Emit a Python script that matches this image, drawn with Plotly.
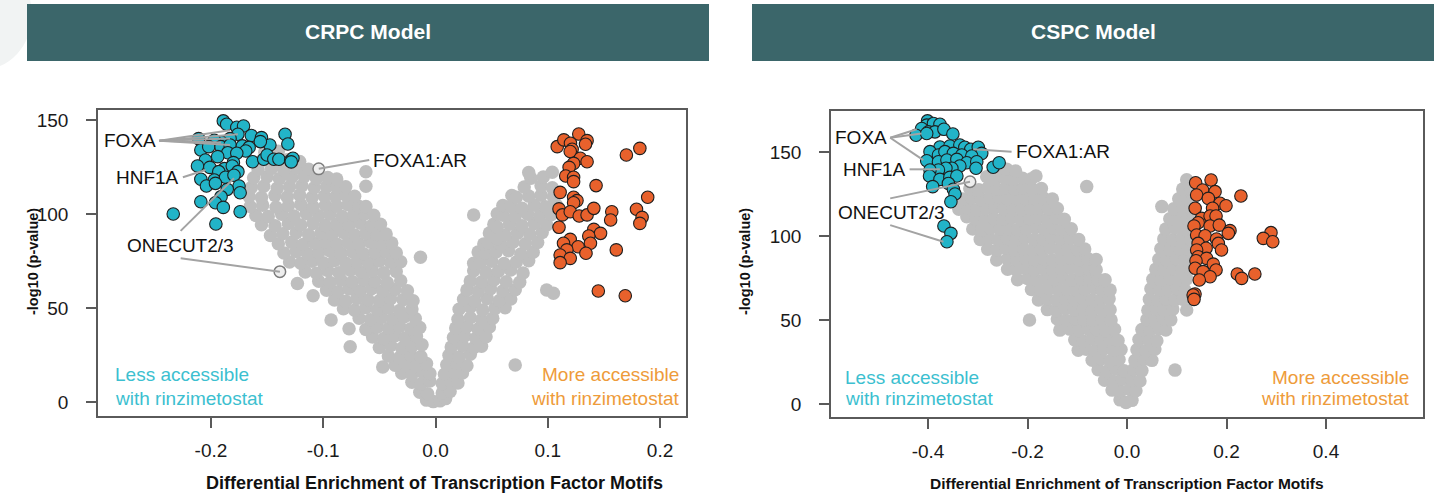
import plotly.graph_objects as go

W, H = 1436, 494
FONT = "Liberation Sans, Arial, sans-serif"

GRAY = "#BEBEBE"
CYAN = "#22B4C8"
ORANGE = "#E8612C"
EDGE = "#1E1E1E"
LEADER = "#A3A3A3"
HEADER = "#3B666A"
TXT_CYAN = "#3CBFD0"
TXT_ORANGE = "#EE9B3A"

# ---------------- CRPC model ----------------
crpc_gray_x = [
    -0.008, -0.002, 0.004, 0.009,
    -0.014, -0.007, 0.006, 0.013,
    -0.021, -0.013, -0.005, 0.006, 0.014, 0.020,
    -0.030, -0.021, -0.012, -0.005, 0.008, 0.016, 0.024,
    -0.047, -0.036, -0.026, -0.017, -0.008, 0.010, 0.019, 0.028, 0.071,
    -0.042, -0.032, -0.022, -0.013, 0.012, 0.021, 0.031,
    -0.076, -0.050, -0.040, -0.030, -0.021, -0.012, 0.014, 0.024, 0.034, 0.041,
    -0.056, -0.046, -0.036, -0.027, -0.017, 0.016, 0.026, 0.036, 0.045,
    -0.077, -0.062, -0.052, -0.042, -0.032, -0.022, -0.014, 0.018, 0.028, 0.038, 0.048,
    -0.093, -0.068, -0.058, -0.048, -0.038, -0.028, -0.018, 0.020, 0.031, 0.041, 0.051,
    -0.082, -0.072, -0.062, -0.052, -0.042, -0.032, -0.021, 0.021, 0.031, 0.042, 0.053, 0.062,
    -0.109, -0.090, -0.080, -0.070, -0.060, -0.050, -0.040, -0.029, -0.020, 0.025, 0.035, 0.046, 0.057, 0.067,
    -0.097, -0.087, -0.077, -0.067, -0.057, -0.047, -0.036, -0.025, 0.028, 0.038, 0.049, 0.060, 0.071, 0.099, 0.105,
    -0.123, -0.104, -0.094, -0.084, -0.074, -0.064, -0.054, -0.043, -0.031, 0.031, 0.041, 0.052, 0.063, 0.075,
    -0.116, -0.106, -0.096, -0.086, -0.076, -0.066, -0.056, -0.046, -0.035, 0.034, 0.045, 0.056, 0.067, 0.078,
    -0.130, -0.120, -0.110, -0.100, -0.090, -0.080, -0.070, -0.060, -0.050, -0.040, -0.031, 0.034, 0.040, 0.050, 0.061, 0.072, 0.083,
    -0.0134,
    -0.135, -0.124, -0.114, -0.104, -0.094, -0.084, -0.074, -0.064, -0.054, -0.044, -0.035, 0.038, 0.044, 0.054, 0.065, 0.076, 0.087,
    -0.140, -0.128, -0.118, -0.108, -0.098, -0.088, -0.078, -0.068, -0.058, -0.048, -0.039, 0.043, 0.047, 0.058, 0.069, 0.080, 0.091,
    -0.147, -0.136, -0.124, -0.113, -0.102, -0.092, -0.082, -0.072, -0.062, -0.052, -0.044, 0.048, 0.055, 0.062, 0.073, 0.084, 0.095,
    -0.155, -0.143, -0.131, -0.120, -0.109, -0.098, -0.088, -0.077, -0.067, -0.057, -0.049, 0.052, 0.055, 0.066, 0.077, 0.088, 0.099,
    -0.160, -0.149, -0.137, -0.126, -0.115, -0.104, -0.094, -0.083, -0.073, -0.063, -0.055, 0.034, 0.055, 0.060, 0.071, 0.082, 0.093, 0.103,
    -0.165, -0.154, -0.142, -0.131, -0.120, -0.109, -0.098, -0.088, -0.078, -0.068, -0.062, 0.060, 0.067, 0.077, 0.088, 0.098, 0.108,
    -0.166, -0.155, -0.143, -0.132, -0.121, -0.110, -0.099, -0.089, -0.080, -0.072, 0.068, 0.072, 0.083, 0.094, 0.105,
    -0.164, -0.153, -0.141, -0.130, -0.119, -0.108, -0.097, -0.088, -0.080, -0.062, 0.079, 0.094, 0.104,
    -0.162, -0.150, -0.139, -0.128, -0.117, -0.106, -0.096, -0.088, 0.085, 0.096,
    -0.158, -0.146, -0.135, -0.124, -0.113, -0.062, 0.083, 0.104,
    -0.155, -0.143, -0.132, -0.121, -0.152, -0.140,
]
crpc_gray_y = [
    1.0, 0.2, 0.6, 1.8,
    5.2, 4.4, 4.8, 5.6,
    10.5, 9.6, 11.2, 9.8, 10.9, 10.1,
    15.3, 14.6, 16.0, 15.2, 14.8, 15.9, 15.4,
    18.6, 19.5, 20.3, 19.1, 20.5, 19.8, 20.6, 19.3, 19.7,
    24.5, 23.6, 25.0, 24.2, 24.8, 23.9, 25.4,
    29.4, 29.0, 30.1, 28.6, 29.7, 30.4, 29.2, 30.0, 28.8, 29.6,
    34.6, 33.8, 35.2, 34.0, 34.9, 34.3, 35.1, 33.9, 34.7,
    39.0, 38.6, 39.8, 39.1, 40.2, 38.9, 39.6, 39.4, 40.1, 38.8, 39.9,
    43.6, 44.5, 43.8, 44.9, 44.1, 45.2, 44.4, 44.0, 44.8, 43.7, 44.6,
    49.6, 48.8, 50.2, 49.1, 50.0, 48.7, 49.5, 49.3, 50.4, 48.9, 49.8, 50.1,
    56.5, 54.3, 53.6, 55.0, 54.2, 53.8, 54.9, 54.4, 53.9, 54.6, 53.7, 55.1, 54.0, 54.8,
    59.4, 58.7, 60.1, 59.2, 60.3, 58.9, 59.8, 59.1, 59.5, 58.8, 60.2, 59.0, 59.7, 59.6, 57.8,
    63.0, 64.2, 63.5, 64.8, 63.9, 65.0, 64.1, 63.6, 64.5, 64.3, 63.8, 64.9, 64.0, 63.7,
    69.2, 68.5, 69.9, 68.8, 70.1, 69.0, 69.6, 68.7, 69.4, 69.8, 68.9, 69.5, 70.2, 68.6,
    74.5, 73.8, 74.9, 74.1, 75.2, 73.9, 74.6, 74.0, 75.0, 74.3, 74.6, 73.8, 74.0, 74.8, 73.7, 74.5, 75.1,
    77.0,
    79.3, 80.0, 78.8, 79.6, 80.3, 79.0, 79.9, 78.9, 79.5, 80.1, 79.4, 79.8, 79.2, 79.8, 80.4, 78.7, 79.6,
    84.2, 84.9, 83.8, 84.6, 85.1, 84.0, 84.7, 83.9, 85.0, 84.3, 84.6, 84.0, 84.5, 83.7, 85.0, 84.2, 84.8,
    88.6, 89.5, 90.0, 88.9, 89.8, 89.2, 90.2, 88.8, 89.6, 89.1, 89.4, 89.9, 87.0, 88.8, 89.7, 89.3, 90.1,
    94.3, 93.7, 94.9, 94.1, 95.0, 93.9, 94.6, 94.2, 95.1, 93.8, 94.5, 94.6, 93.0, 94.5, 93.8, 95.0, 94.2,
    99.2, 98.6, 99.9, 98.9, 100.2, 99.1, 99.8, 98.7, 99.5, 100.0, 99.3, 99.5, 100.1, 99.3, 98.8, 99.9, 99.0, 99.6,
    104.0, 104.7, 103.6, 104.4, 105.0, 103.8, 104.6, 104.1, 104.9, 104.0, 104.0, 104.5, 104.0, 103.0, 104.6, 103.9, 104.5,
    109.3, 108.7, 109.9, 109.0, 110.1, 108.8, 109.6, 109.2, 110.0, 109.4, 109.8, 108.9, 109.5, 110.0, 109.1,
    114.1, 114.8, 113.7, 114.5, 115.0, 113.9, 114.6, 114.2, 114.5, 114.8, 114.3, 115.0, 114.0,
    119.2, 119.8, 118.8, 119.5, 120.0, 118.9, 119.4, 118.6, 119.0, 119.7,
    123.6, 124.2, 123.3, 124.6, 123.8, 122.5, 122.0, 122.2,
    128.3, 127.6, 128.8, 127.9, 132.8, 133.4,
]

crpc_less_x = [
    -0.189, -0.186, -0.177, -0.171, -0.176, -0.164, -0.155, -0.134, -0.1315, -0.1475,
    -0.156, -0.183, -0.191, -0.197, -0.211, -0.209, -0.202, -0.191, -0.183, -0.172,
    -0.166, -0.169, -0.185, -0.177, -0.194, -0.205, -0.180, -0.163, -0.153, -0.150,
    -0.144, -0.1395, -0.129, -0.127, -0.1285, -0.212, -0.201, -0.188, -0.181, -0.193,
    -0.176, -0.209, -0.197, -0.187, -0.1795, -0.204, -0.196, -0.175, -0.1855, -0.174,
    -0.191, -0.209, -0.196, -0.189, -0.2336, -0.174, -0.1956,
]
crpc_less_y = [
    149.5, 147.7, 146.1, 146.8, 142.4, 141.7, 140.6, 142.4, 137.2, 136.7,
    138.5, 140.1, 138.3, 139.2, 140.1, 134.0, 135.8, 135.8, 136.7, 136.2,
    135.4, 133.5, 132.6, 132.3, 130.5, 128.7, 127.3, 127.8, 129.1, 131.4,
    129.1, 129.1, 128.4, 129.6, 127.7, 125.5, 124.8, 124.1, 125.5, 122.5,
    122.5, 118.5, 118.1, 119.5, 120.6, 114.9, 116.3, 114.9, 113.1, 111.3,
    109.2, 106.5, 106.0, 103.5, 100.0, 101.2, 94.7,
]

crpc_more_x = [
    0.1276, 0.1084, 0.1143, 0.1202, 0.135, 0.1336, 0.1217, 0.120, 0.182, 0.170,
    0.129, 0.135, 0.123, 0.119, 0.116, 0.123, 0.123, 0.143, 0.111, 0.189,
    0.123, 0.126, 0.123, 0.110, 0.113, 0.120, 0.128, 0.135, 0.141, 0.157,
    0.156, 0.179, 0.184, 0.182, 0.110, 0.141, 0.147, 0.1365, 0.120, 0.114,
    0.138, 0.127, 0.117, 0.161, 0.134, 0.111, 0.120, 0.111, 0.145, 0.169,
]
crpc_more_y = [
    142.5, 135.8, 139.4, 137.6, 139.0, 137.1, 134.4, 133.2, 134.9, 131.4,
    129.6, 127.8, 126.9, 124.8, 120.2, 119.5, 117.2, 115.1, 111.5, 108.9,
    108.9, 107.1, 106.0, 102.7, 99.5, 101.2, 98.9, 99.5, 103.0, 101.2,
    96.8, 102.5, 98.2, 95.0, 92.9, 91.8, 89.7, 88.3, 86.5, 84.4,
    84.4, 82.6, 80.9, 80.9, 79.1, 78.2, 76.4, 74.1, 59.0, 56.5,
]

# highlighted motifs that sit inside the grey cloud (FOXA1:AR, ONECUT2/3)
crpc_open_x = [-0.104, -0.1386]
crpc_open_y = [124.0, 69.3]

crpc_label_text = ["FOXA", "HNF1A", "ONECUT2/3", "FOXA1:AR"]
crpc_label_x = [-0.2475, -0.2265, -0.227, -0.0575]
crpc_label_y = [139.0, 119.5, 83.5, 128.7]
crpc_label_anchor = ["right", "right", "center", "left"]
# leader segments: x0, y0, x1, y1
crpc_leaders = [
    (-0.246, 139.0, -0.183, 144.5),
    (-0.246, 139.0, -0.176, 142.4),
    (-0.246, 139.0, -0.183, 140.1),
    (-0.246, 139.0, -0.191, 138.0),
    (-0.246, 139.0, -0.183, 136.7),
    (-0.225, 119.5, -0.2048, 123.4),
    (-0.227, 91.0, -0.1795, 119.0),
    (-0.227, 76.4, -0.1386, 69.3),
    (-0.104, 124.0, -0.059, 128.7),
]

# ---------------- CSPC model ----------------
cspc_gray_x = [
    -0.014, -0.002, 0.010,
    -0.030, -0.013, 0.005, 0.018,
    -0.045, -0.027, -0.010, 0.010, 0.026,
    -0.058, -0.040, -0.022, -0.006, 0.013, 0.030, 0.0965,
    -0.070, -0.052, -0.034, -0.016, 0.016, 0.034, 0.050,
    -0.098, -0.082, -0.064, -0.046, -0.028, -0.012, 0.020, 0.038, 0.056,
    -0.105, -0.088, -0.070, -0.052, -0.034, -0.018, 0.024, 0.042, 0.060,
    -0.135, -0.115, -0.097, -0.079, -0.061, -0.043, -0.025, 0.030, 0.046, 0.064, 0.078,
    -0.196, -0.140, -0.122, -0.104, -0.086, -0.068, -0.050, -0.032, 0.040, 0.056, 0.072, 0.088,
    -0.160, -0.142, -0.124, -0.106, -0.088, -0.070, -0.052, -0.034, 0.042, 0.058, 0.074, 0.092, 0.120,
    -0.178, -0.160, -0.142, -0.124, -0.106, -0.088, -0.070, -0.052, -0.036, 0.045, 0.062, 0.078, 0.096, 0.112,
    -0.192, -0.174, -0.156, -0.138, -0.120, -0.102, -0.084, -0.066, -0.050, -0.034, 0.048, 0.065, 0.082, 0.100, 0.116,
    -0.220, -0.200, -0.182, -0.164, -0.146, -0.128, -0.110, -0.092, -0.074, -0.058, -0.044, 0.052, 0.068, 0.086, 0.104, 0.120,
    -0.240, -0.222, -0.204, -0.186, -0.168, -0.150, -0.132, -0.114, -0.096, -0.078, -0.062, 0.058, 0.074, 0.092, 0.110, 0.126,
    -0.262, -0.240, -0.222, -0.204, -0.186, -0.168, -0.150, -0.132, -0.114, -0.096, -0.078, -0.062, 0.064, 0.080, 0.098, 0.116, 0.130,
    -0.280, -0.262, -0.244, -0.226, -0.208, -0.190, -0.172, -0.154, -0.136, -0.118, -0.100, -0.085, 0.068, 0.086, 0.104, 0.122,
    -0.295, -0.277, -0.259, -0.241, -0.223, -0.205, -0.187, -0.169, -0.151, -0.133, -0.115, -0.097, 0.074, 0.092, 0.110, 0.128,
    -0.310, -0.292, -0.274, -0.256, -0.238, -0.220, -0.202, -0.184, -0.166, -0.148, -0.130, -0.112, 0.078, 0.096, 0.114, 0.132,
    -0.322, -0.304, -0.286, -0.268, -0.250, -0.232, -0.214, -0.196, -0.178, -0.160, -0.142, -0.126, 0.086, 0.104, 0.120, 0.134,
    -0.338, -0.320, -0.302, -0.284, -0.266, -0.248, -0.230, -0.212, -0.194, -0.176, -0.158, -0.140, 0.070, 0.094, 0.112, 0.128,
    -0.330, -0.312, -0.294, -0.276, -0.258, -0.240, -0.222, -0.204, -0.186, -0.168, -0.150, 0.104, 0.120, 0.132,
    -0.316, -0.298, -0.280, -0.262, -0.244, -0.226, -0.208, -0.190, -0.172, -0.081, 0.112, 0.128,
    -0.282, -0.264, -0.246, -0.228, -0.210, -0.192, -0.183, 0.120,
    -0.260, -0.242, -0.224,
]
cspc_gray_y = [
    2.5, 1.0, 2.2,
    8.3, 7.6, 8.8, 7.9,
    14.2, 13.5, 14.8, 14.0, 13.7,
    20.4, 19.6, 20.9, 19.8, 20.6, 19.9, 20.2,
    26.1, 26.8, 25.6, 26.5, 25.9, 26.7, 26.0,
    32.0, 32.6, 31.7, 32.9, 32.1, 32.5, 32.3, 31.8, 32.7,
    38.2, 37.6, 38.9, 38.0, 38.6, 37.8, 38.4, 38.9, 37.7,
    44.0, 44.6, 43.8, 44.9, 44.2, 43.7, 44.5, 44.3, 43.9, 44.8, 44.1,
    50.0, 50.6, 49.7, 50.9, 50.2, 49.8, 50.5, 50.0, 50.3, 49.6, 50.8, 50.1,
    56.2, 55.6, 56.8, 56.0, 56.6, 55.7, 56.4, 56.1, 55.9, 56.7, 56.0, 56.5, 56.0,
    62.0, 62.7, 61.8, 62.5, 62.1, 62.8, 61.9, 62.4, 62.6, 62.3, 61.8, 62.6, 62.0, 62.4,
    68.2, 67.6, 68.7, 68.0, 68.5, 67.8, 68.4, 68.9, 68.1, 67.9, 68.6, 67.9, 68.3, 68.8, 68.0,
    74.0, 74.7, 73.8, 74.5, 74.1, 74.8, 73.9, 74.4, 74.6, 74.2, 74.0, 74.3, 73.8, 74.7, 74.0, 74.5,
    80.2, 79.6, 80.8, 80.0, 80.5, 79.8, 80.4, 80.9, 80.1, 80.6, 79.9, 80.3, 79.7, 80.6, 80.0, 80.4,
    85.7, 86.4, 85.9, 86.7, 86.1, 86.5, 85.8, 86.3, 86.8, 86.0, 86.4, 86.0, 86.2, 85.8, 86.6, 86.1, 86.5,
    92.1, 91.6, 92.7, 92.0, 92.5, 91.8, 92.4, 92.9, 92.2, 92.6, 91.9, 92.3, 92.4, 91.7, 92.6, 92.0,
    98.0, 98.6, 97.8, 98.5, 98.1, 98.8, 97.9, 98.4, 98.7, 98.2, 98.6, 97.9, 98.3, 97.8, 98.6, 98.1,
    104.2, 103.6, 104.7, 104.0, 104.5, 103.8, 104.4, 104.9, 104.1, 104.6, 103.9, 104.3, 104.2, 104.8, 103.9, 104.5,
    111.5, 110.2, 109.7, 110.6, 110.0, 110.8, 109.8, 110.4, 110.9, 110.1, 110.6, 110.0, 110.3, 109.7, 110.6, 110.1,
    116.0, 116.6, 115.7, 116.4, 116.9, 116.1, 116.5, 115.8, 116.3, 116.7, 116.0, 116.4, 117.5, 116.2, 115.8, 116.5,
    122.0, 122.6, 121.8, 122.4, 122.9, 122.1, 122.5, 121.9, 122.3, 122.7, 122.0, 122.2, 122.6, 121.9,
    128.1, 127.6, 128.5, 127.9, 128.4, 128.0, 128.6, 127.8, 128.3, 129.4, 128.0, 127.6,
    135.3, 134.0, 134.6, 133.8, 134.4, 134.1, 135.7, 133.5,
    139.3, 139.8, 138.7,
]

cspc_less_x = [
    -0.401, -0.4026, -0.389, -0.376, -0.4127, -0.399, -0.386, -0.368, -0.424, -0.4026,
    -0.350, -0.376, -0.356, -0.336, -0.326, -0.314, -0.299, -0.292, -0.396, -0.379,
    -0.366, -0.349, -0.332, -0.312, -0.4026, -0.379, -0.362, -0.342, -0.322, -0.302,
    -0.336, -0.352, -0.364, -0.379, -0.396, -0.3035, -0.269, -0.257, -0.397, -0.376,
    -0.356, -0.342, -0.359, -0.3906, -0.349, -0.3457, -0.354, -0.368, -0.354, -0.362,
]
cspc_less_y = [
    168.5, 166.0, 167.0, 166.5, 164.0, 162.0, 162.0, 163.5, 160.0, 161.0,
    160.7, 153.0, 153.6, 154.2, 152.8, 151.6, 152.8, 149.2, 150.2, 148.2,
    150.2, 149.2, 148.2, 147.6, 144.8, 144.2, 145.2, 145.6, 143.6, 144.2,
    141.7, 140.3, 140.3, 139.3, 139.3, 140.3, 140.9, 143.6, 135.7, 133.7,
    134.9, 135.7, 131.3, 129.4, 127.8, 125.0, 120.4, 106.0, 101.6, 96.6,
]

cspc_more_x = [
    0.138, 0.169, 0.152, 0.177, 0.140, 0.1635, 0.229, 0.187, 0.199, 0.137,
    0.172, 0.150, 0.167, 0.179, 0.143, 0.1347, 0.167, 0.1855, 0.207, 0.2037,
    0.140, 0.157, 0.2894, 0.274, 0.293, 0.180, 0.1836, 0.143, 0.159, 0.190,
    0.140, 0.143, 0.160, 0.1387, 0.1735, 0.137, 0.153, 0.179, 0.167, 0.1453,
    0.2217, 0.2305, 0.257, 0.1367, 0.133, 0.1347,
]
cspc_more_y = [
    131.7, 133.3, 127.4, 126.4, 124.4, 122.4, 123.8, 119.5, 118.0, 116.5,
    116.5, 110.5, 111.9, 111.9, 107.9, 106.0, 106.0, 106.5, 103.2, 101.6,
    100.6, 100.2, 102.0, 98.6, 96.6, 98.2, 95.6, 95.6, 92.7, 91.7,
    91.7, 87.7, 86.7, 85.3, 83.3, 80.8, 78.8, 79.8, 75.8, 73.8,
    77.4, 74.8, 77.4, 65.5, 64.9, 62.3,
]

cspc_open_x = [-0.3156]
cspc_open_y = [132.3]

cspc_label_text = ["FOXA", "HNF1A", "ONECUT2/3", "FOXA1:AR"]
cspc_label_x = [-0.4775, -0.4395, -0.473, -0.227]
cspc_label_y = [158.5, 139.7, 113.9, 150.2]
cspc_label_anchor = ["right", "right", "center", "left"]
cspc_leaders = [
    (-0.476, 158.5, -0.4227, 163.5),
    (-0.476, 158.5, -0.413, 161.0),
    (-0.476, 158.5, -0.4094, 145.2),
    (-0.437, 139.7, -0.376, 139.7),
    (-0.476, 122.4, -0.3156, 132.3),
    (-0.476, 106.5, -0.369, 96.6),
    (-0.309, 151.6, -0.232, 150.2),
]

# axis ticks
crpc_xticks = [-0.2, -0.1, 0.0, 0.1, 0.2]
cspc_xticks = [-0.4, -0.2, 0.0, 0.2, 0.4]
crpc_yticks = [0, 50, 100, 150]
cspc_yticks = [0, 50, 100, 150]

panel_titles = ["CRPC Model", "CSPC Model"]
x_title = "Differential Enrichment of Transcription Factor Motifs"
y_title = "-log10 (p-value)"
less_text = ["Less accessible", "with rinzimetostat"]
more_text = ["More accessible", "with rinzimetostat"]


def px(p):
    return p / W


def py(p):
    return 1 - p / H


fig = go.Figure()


def add_points(xs, ys, xa, ya, color, edge=None, edge_w=0.0, size=12.5):
    fig.add_trace(go.Scatter(
        x=xs, y=ys, xaxis=xa, yaxis=ya, mode="markers", hoverinfo="skip",
        marker=dict(size=size, color=color,
                    line=dict(color=edge if edge else color, width=edge_w)),
    ))


add_points(crpc_gray_x, crpc_gray_y, "x", "y", GRAY, size=13.5)
add_points(crpc_open_x, crpc_open_y, "x", "y", "#EEEEEE", "#7C7C7C", 1.5, size=11.5)
add_points(crpc_less_x, crpc_less_y, "x", "y", CYAN, EDGE, 1.1)
add_points(crpc_more_x, crpc_more_y, "x", "y", ORANGE, EDGE, 1.1)

add_points(cspc_gray_x, cspc_gray_y, "x2", "y2", GRAY, size=13.5)
add_points(cspc_open_x, cspc_open_y, "x2", "y2", "#EEEEEE", "#7C7C7C", 1.5, size=11.5)
add_points(cspc_less_x, cspc_less_y, "x2", "y2", CYAN, EDGE, 1.1)
add_points(cspc_more_x, cspc_more_y, "x2", "y2", ORANGE, EDGE, 1.1)

shapes = []
annotations = []

# faint decorative disc in the page corner
shapes.append(dict(type="circle", xref="paper", yref="paper",
                   x0=px(-70), x1=px(32), y0=py(70), y1=py(-40),
                   fillcolor="#F1F3F3", line=dict(width=0), layer="below"))

# panel header bars
header_spans = [(27, 709), (752, 1434)]
for (a, b), title in zip(header_spans, panel_titles):
    shapes.append(dict(type="rect", xref="paper", yref="paper",
                       x0=px(a), x1=px(b), y0=py(61), y1=py(4),
                       fillcolor=HEADER, line=dict(width=0), layer="below"))
    annotations.append(dict(xref="paper", yref="paper", x=px((a + b) / 2), y=py(32),
                            xanchor="center", yanchor="middle",
                            text=f"<b>{title}</b>", showarrow=False,
                            font=dict(size=21, color="white", family=FONT)))

# leader lines
for seg in crpc_leaders:
    shapes.append(dict(type="line", xref="x", yref="y", x0=seg[0], y0=seg[1],
                       x1=seg[2], y1=seg[3], line=dict(color=LEADER, width=2), layer="above"))
for seg in cspc_leaders:
    shapes.append(dict(type="line", xref="x2", yref="y2", x0=seg[0], y0=seg[1],
                       x1=seg[2], y1=seg[3], line=dict(color=LEADER, width=2), layer="above"))

# motif labels
for t, x, y, anc in zip(crpc_label_text, crpc_label_x, crpc_label_y, crpc_label_anchor):
    annotations.append(dict(xref="x", yref="y", x=x, y=y, text=t, showarrow=False,
                            xanchor=anc, yanchor="middle",
                            font=dict(size=19, color="#111111", family=FONT)))
for t, x, y, anc in zip(cspc_label_text, cspc_label_x, cspc_label_y, cspc_label_anchor):
    annotations.append(dict(xref="x2", yref="y2", x=x, y=y, text=t, showarrow=False,
                            xanchor=anc, yanchor="middle",
                            font=dict(size=19, color="#111111", family=FONT)))

# corner notes
corner = [
    ("x", "y", -0.2872, 0.2187, [14.4, 2.1]),
    ("x2", "y2", -0.571, 0.571, [16.1, 3.6]),
]
for xr, yr, xl, xrgt, ys in corner:
    for line_txt, yv in zip(less_text, ys):
        annotations.append(dict(xref=xr, yref=yr, x=xl, y=yv, text=line_txt, showarrow=False,
                                xanchor="left", yanchor="middle",
                                font=dict(size=19, color=TXT_CYAN, family=FONT)))
    for line_txt, yv in zip(more_text, ys):
        annotations.append(dict(xref=xr, yref=yr, x=xrgt, y=yv, text=line_txt, showarrow=False,
                                xanchor="right", yanchor="middle",
                                font=dict(size=19, color=TXT_ORANGE, family=FONT)))

# axis titles
for cx, fs in ((434, 18), (1127, 15.5)):
    annotations.append(dict(xref="paper", yref="paper", x=px(cx), y=py(483),
                            xanchor="center", yanchor="middle",
                            text=f"<b>{x_title}</b>", showarrow=False,
                            font=dict(size=fs, color="#111111", family=FONT)))
for cx in (33, 745):
    annotations.append(dict(xref="paper", yref="paper", x=px(cx), y=py(262),
                            xanchor="center", yanchor="middle",
                            text=f"<b>{y_title}</b>", showarrow=False, textangle=-90,
                            font=dict(size=14.5, color="#111111", family=FONT)))

axis_common = dict(
    showgrid=False, zeroline=False, showline=True, mirror=True,
    linecolor="#5A5A5A", linewidth=1.5, ticks="outside", ticklen=10,
    tickwidth=1.5, tickcolor="#5A5A5A",
    tickfont=dict(size=19, color="#1A1A1A", family=FONT),
)

fig.update_layout(
    width=W, height=H, margin=dict(l=0, r=0, t=0, b=0),
    paper_bgcolor="white", plot_bgcolor="white", showlegend=False,
    font=dict(family=FONT),
    xaxis=dict(domain=[px(98), px(686)], range=[-0.3006, 0.2231], anchor="y",
               tickvals=crpc_xticks, ticktext=[f"{v:.1f}" for v in crpc_xticks],
               ticklabelstandoff=6, **axis_common),
    yaxis=dict(domain=[py(416), py(110)], range=[-7.45, 155.3], anchor="x",
               tickvals=crpc_yticks, ticktext=[str(v) for v in crpc_yticks],
               ticklabelstandoff=14, **axis_common),
    xaxis2=dict(domain=[px(831), px(1423)], range=[-0.595, 0.595], anchor="y2",
                tickvals=cspc_xticks, ticktext=[f"{v:.1f}" for v in cspc_xticks],
                ticklabelstandoff=6, **axis_common),
    yaxis2=dict(domain=[py(417), py(111)], range=[-7.7, 174.4], anchor="x2",
                tickvals=cspc_yticks, ticktext=[str(v) for v in cspc_yticks],
                ticklabelstandoff=14, **axis_common),
    shapes=shapes,
    annotations=annotations,
)

fig.write_html("out.html")
